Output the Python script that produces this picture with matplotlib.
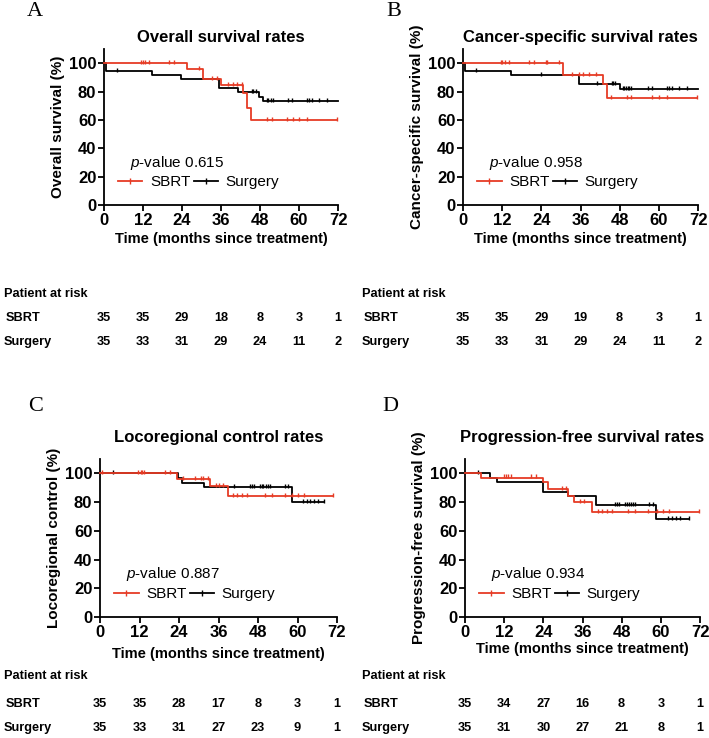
import numpy as np
import matplotlib
matplotlib.use("Agg")
import matplotlib.pyplot as plt
from matplotlib.lines import Line2D
from matplotlib import transforms

plt.rcParams['font.family'] = ['Liberation Sans', 'DejaVu Sans']
plt.rcParams['mathtext.fontset'] = 'custom'
plt.rcParams['mathtext.it'] = 'Liberation Sans:italic'
plt.rcParams['mathtext.rm'] = 'Liberation Sans'

RED = '#E63B25'
NARROW = ['Liberation Sans Narrow', 'Liberation Sans']

# 时间点 (月) 与每一步之后的生存率 (%)
A_sbrt_t = [0, 25.6, 30.6, 35.9, 42.9, 43.9, 45.1]
A_sbrt_s = [100, 96.1, 88.5, 84.3, 78.7, 68.3, 60.0]
A_sbrt_end = 71.6
A_sbrt_cens = [11.3, 11.9, 12.6, 13.9, 20.0, 21.5, 29.3, 33.1, 34.7, 38.3, 39.8, 41.0,
               42.4, 50.3, 51.6, 56.2, 58.1, 60.1, 62.6, 71.6]
A_surg_t = [0, 0.5, 14.7, 23.7, 35.5, 41.1, 47.8, 49.0]
A_surg_s = [100, 94.3, 91.4, 88.6, 82.6, 79.7, 76.4, 73.4]
A_surg_end = 72
A_surg_cens = [3.9, 45.4, 45.9, 46.7, 50.0, 50.6, 51.3, 52.1, 56.7, 57.7, 62.4, 63.2,
               64.0, 66.2, 68.5]

B_sbrt_t = [0, 30.7, 42.8, 44.0]
B_sbrt_s = [100, 91.7, 85.6, 75.5]
B_sbrt_end = 71.6
B_sbrt_cens = [11.5, 12.1, 12.8, 14.1, 20.1, 21.7, 25.4, 25.8, 29.4, 33.3, 35.6, 36.8,
               38.6, 40.9, 45.2, 50.1, 51.6, 57.8, 60.1, 62.6, 71.6]
B_surg_t = [0, 0.5, 14.7, 35.6, 48.0]
B_surg_s = [100, 94.3, 91.4, 85.4, 82.0]
B_surg_end = 72
B_surg_cens = [4.1, 23.8, 41.2, 45.5, 46.0, 46.7, 48.9, 49.4, 49.9, 50.4, 50.9, 51.4,
               56.7, 57.8, 62.4, 63.2, 64.0, 66.3, 68.5]

C_sbrt_t = [0, 23.3, 33.4, 38.8]
C_sbrt_s = [100, 96.1, 91.2, 84.2]
C_sbrt_end = 70.9
C_sbrt_cens = [0.7, 11.6, 12.4, 12.9, 13.5, 19.8, 21.3, 25.3, 28.9, 30.7, 31.4, 32.9,
               35.1, 36.1, 37.4, 40.3, 41.5, 43.0, 44.6, 50.2, 52.2, 56.2, 58.3, 60.3,
               62.1, 70.9]
C_surg_t = [0, 23.8, 25.0, 31.7, 58.3]
C_surg_s = [100, 97.1, 93.1, 90.4, 80.2]
C_surg_end = 68.2
C_surg_cens = [4.0, 40.8, 45.6, 46.1, 46.9, 48.6, 49.1, 49.6, 50.4, 51.0, 51.7, 56.2,
               57.1, 61.8, 62.9, 63.9, 64.9, 66.2, 68.2]

D_sbrt_t = [0, 5.0, 23.8, 25.4, 31.5, 33.5, 39.0]
D_sbrt_s = [100, 97.1, 94.2, 88.9, 84.5, 79.9, 73.3]
D_sbrt_end = 71.6
D_sbrt_cens = [11.8, 12.5, 13.3, 14.0, 20.2, 21.8, 29.6, 30.8, 35.1, 36.5, 40.8, 42.1,
               43.4, 44.9, 50.0, 52.1, 56.1, 58.7, 60.7, 62.5, 71.6]
D_surg_t = [0, 7.7, 9.7, 23.8, 31.5, 40.1, 58.6]
D_surg_s = [100, 97.1, 93.9, 87.0, 84.0, 77.7, 67.9]
D_surg_end = 68.5
D_surg_cens = [4.1, 46.0, 46.5, 47.3, 49.1, 49.6, 50.1, 50.8, 51.4, 52.1, 56.5, 57.6,
               62.3, 63.3, 64.7, 65.9, 68.5]

# 风险人数表
risk_times = [0, 12, 24, 36, 48, 60, 72]
A_risk_sbrt = [35, 35, 29, 18, 8, 3, 1]
A_risk_surg = [35, 33, 31, 29, 24, 11, 2]
B_risk_sbrt = [35, 35, 29, 19, 8, 3, 1]
B_risk_surg = [35, 33, 31, 29, 24, 11, 2]
C_risk_sbrt = [35, 35, 28, 17, 8, 3, 1]
C_risk_surg = [35, 33, 31, 27, 23, 9, 1]
D_risk_sbrt = [35, 34, 27, 16, 8, 3, 1]
D_risk_surg = [35, 31, 30, 27, 21, 8, 1]

titles = ['Overall survival rates', 'Cancer-specific survival rates',
          'Locoregional control rates', 'Progression-free survival rates']
ylabels = ['Overall survival (%)', 'Cancer-specific survival (%)',
           'Locoregional control (%)', 'Progression-free survival (%)']
pvalues = ['0.615', '0.958', '0.887', '0.934']
letters = ['A', 'B', 'C', 'D']

W, H = 709, 738
fig = plt.figure(figsize=(W / 100, H / 100), dpi=100)


def px_axes(x0, x1, ytop, ybot):
    return fig.add_axes([x0 / W, 1 - ybot / H, (x1 - x0) / W, (ybot - ytop) / H])


def km(ax, t, s, end, cens, color):
    t = np.array(t + [end])
    s = np.array(s + [s[-1]])
    ax.step(t, s, where='post', color=color, lw=1.3, zorder=3, clip_on=False)
    c = np.array(cens)
    yc = s[np.searchsorted(t, c, side='right') - 1]
    ax.plot(c, yc + 0.8, ls='none', marker='|', ms=3.5, mew=1.0, color=color, zorder=3,
            clip_on=False)


def draw_panel(ax, i, sbrt, surg, title_pad, xlab_pad):
    km(ax, *surg, 'black')
    km(ax, *sbrt, RED)

    ax.set_xlim(0, 72)
    ax.set_ylim(0, 110)
    ax.set_xticks(risk_times)
    ax.set_yticks([0, 20, 40, 60, 80, 100])
    for sp in ['top', 'right']:
        ax.spines[sp].set_visible(False)
    for sp in ['left', 'bottom']:
        ax.spines[sp].set_linewidth(1.3)
    ax.tick_params(direction='out', length=4, width=1.3, labelsize=12, pad=1.5)
    for lab in ax.get_xticklabels() + ax.get_yticklabels():
        lab.set_fontweight('bold')

    ax.set_title(titles[i], fontsize=12, fontweight='bold', pad=title_pad)
    ax.set_ylabel(ylabels[i], fontsize=11, fontweight='bold', labelpad=3)
    ax.set_xlabel('Time (months since treatment)', fontsize=10.5, fontweight='bold',
                  labelpad=xlab_pad)

    ax.text(0.11, 0.27, r'$\mathit{p}$-value ' + pvalues[i], transform=ax.transAxes,
            fontsize=11, va='center')
    handles = [Line2D([], [], color=RED, lw=1.3, marker='|', ms=5),
               Line2D([], [], color='black', lw=1.3, marker='|', ms=5)]
    ax.legend(handles, ['SBRT', 'Surgery'], ncol=2, frameon=False, fontsize=11,
              loc='center left', bbox_to_anchor=(0.06, 0.145), handlelength=1.6,
              handletextpad=0.5, columnspacing=0.2, borderaxespad=0, borderpad=0)


def risk_table(ax, x_lab, y_rows, sbrt, surg):
    tr = transforms.blended_transform_factory(ax.transData, fig.transFigure)
    yp, ys, yg = [1 - y / H for y in y_rows]
    kw = dict(fontsize=9.2, family=NARROW, fontweight='bold', va='center')
    fig.text(x_lab / W, yp, 'Patient at risk', **kw)
    fig.text((x_lab + 2) / W, ys, 'SBRT', **kw)
    fig.text(x_lab / W, yg, 'Surgery', **kw)
    for t, a, b in zip(risk_times, sbrt, surg):
        ax.text(t, ys, str(a), transform=tr, ha='center', **kw)
        ax.text(t, yg, str(b), transform=tr, ha='center', **kw)


axA = px_axes(104, 338, 49, 205)
axB = px_axes(463, 698, 49, 205)
axC = px_axes(100, 337, 459, 617)
axD = px_axes(465, 700, 459, 617)

draw_panel(axA, 0, (A_sbrt_t, A_sbrt_s, A_sbrt_end, A_sbrt_cens),
           (A_surg_t, A_surg_s, A_surg_end, A_surg_cens), 5, 3)
draw_panel(axB, 1, (B_sbrt_t, B_sbrt_s, B_sbrt_end, B_sbrt_cens),
           (B_surg_t, B_surg_s, B_surg_end, B_surg_cens), 5, 3)
draw_panel(axC, 2, (C_sbrt_t, C_sbrt_s, C_sbrt_end, C_sbrt_cens),
           (C_surg_t, C_surg_s, C_surg_end, C_surg_cens), 12, 5)
draw_panel(axD, 3, (D_sbrt_t, D_sbrt_s, D_sbrt_end, D_sbrt_cens),
           (D_surg_t, D_surg_s, D_surg_end, D_surg_cens), 12, 2)

risk_table(axA, 4, (294, 318, 342), A_risk_sbrt, A_risk_surg)
risk_table(axB, 362, (294, 318, 342), B_risk_sbrt, B_risk_surg)
risk_table(axC, 4, (676, 704, 728), C_risk_sbrt, C_risk_surg)
risk_table(axD, 362, (676, 704, 728), D_risk_sbrt, D_risk_surg)

for lt, (x, y) in zip(letters, [(35, 11), (394, 11), (36, 407), (390, 407)]):
    fig.text(x / W, 1 - y / H, lt, fontsize=16, family='Liberation Serif',
             ha='center', va='center')

fig.savefig('out.png', dpi=100)
